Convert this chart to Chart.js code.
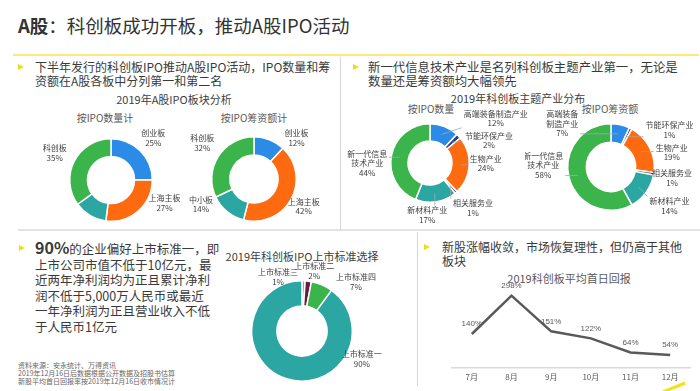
<!DOCTYPE html>
<html lang="zh">
<head>
<meta charset="UTF-8">
<title>A股：科创板成功开板，推动A股IPO活动</title>
<script src="https://cdn.jsdelivr.net/npm/chart.js"></script>
<style>
    body {
        margin: 0;
        width: 700px;
        height: 391px;
        background: #fff;
        overflow: hidden;
        position: relative;
        font-family: 'Noto Sans CJK SC', 'Liberation Sans', sans-serif;
        color: #333;
    }
    .abs { position: absolute; white-space: nowrap; }
    canvas { position: absolute; }
    .title { left: 18px; top: 12px; font-size: 18.5px; line-height: 26px; color: #333; }
    .title b { font-weight: bold; }
    .yline { left: 13px; top: 54px; width: 686px; height: 2px; background: #fbe97a; }
    .hline { left: 18px; top: 229px; width: 682px; height: 2px; background: #e3e3e3; }
    .vline1 { left: 340px; top: 57px; width: 1px; height: 173px; background: #d6d6d6; }
    .vline2 { left: 417px; top: 232px; width: 1px; height: 154px; background: #d6d6d6; }
    .arrow { width: 0; height: 0; border-left: 6px solid #f2dc14; border-top: 3.5px solid transparent; border-bottom: 3.5px solid transparent; }
    .bullet { font-size: 12px; line-height: 14px; color: #3a3a3a; }
    .bullet.wide { font-size: 12.4px; }
    .bullet.big { font-size: 12.5px; line-height: 15.5px; }
    .bullet .pct { font-size: 16px; font-weight: bold; }
    .head { font-size: 11px; color: #404040; transform: translateX(-50%); }
    .sub { font-size: 10px; color: #595959; transform: translateX(-50%); }
    .src { left: 18px; top: 361px; font-size: 7px; line-height: 8px; color: #666; }
    .slash { left: 662px; top: 386px; width: 24px; height: 2.5px; background: #f5e11a; transform: rotate(-22deg); }
</style>
</head>
<body>
    <div class="abs title"><b>A股</b>：科创板成功开板，推动A股IPO活动</div>
    <div class="abs yline"></div>
    <div class="abs hline"></div>
    <div class="abs vline1"></div>
    <div class="abs vline2"></div>

    <div class="abs arrow" style="left:18px; top:64px;"></div>
    <div class="abs bullet" style="left:35px; top:60px;">下半年发行的科创板IPO推动A股IPO活动，IPO数量和筹<br>资额在A股各板中分列第一和第二名</div>
    <div class="abs head" style="left:174px; top:91px;">2019年A股IPO板块分析</div>
    <div class="abs sub" style="left:105px; top:110px;">按IPO数量计</div>
    <div class="abs sub" style="left:254px; top:110px;">按IPO筹资额计</div>

    <div class="abs arrow" style="left:353px; top:64px;"></div>
    <div class="abs bullet wide" style="left:368px; top:60px;">新一代信息技术产业是名列科创板主题产业第一，无论是<br>数量还是筹资额均大幅领先</div>
    <div class="abs head" style="left:518px; top:90px;">2019年科创板主题产业分布</div>
    <div class="abs sub" style="left:431px; top:101px;">按IPO数量</div>
    <div class="abs sub" style="left:610px; top:101px;">按IPO筹资额</div>

    <div class="abs arrow" style="left:19px; top:245px;"></div>
    <div class="abs bullet big" style="left:35px; top:240px;"><span class="pct">90%</span>的企业偏好上市标准一，即<br>上市公司市值不低于10亿元，最<br>近两年净利润均为正且累计净利<br>润不低于5,000万人民币或最近<br>一年净利润为正且营业收入不低<br>于人民币1亿元</div>
    <div class="abs src">资料来源：安永统计、万得资讯<br>2019年12月16日后数据根据公开数据及招股书估算<br>新股平均首日回报率按2019年12月16日收市情况计</div>
    <div class="abs head" style="left:302px; top:248px;">2019年科创板IPO上市标准选择</div>

    <div class="abs arrow" style="left:424px; top:244px;"></div>
    <div class="abs bullet" style="left:442px; top:240px;">新股涨幅收敛，市场恢复理性，但仍高于其他<br>板块</div>
    <div class="abs head" style="left:569px; top:270px; color:#595959;">2019科创板平均首日回报</div>
    <div class="abs slash"></div>

    <canvas id="boardCount"></canvas>
    <canvas id="boardRaise"></canvas>
    <canvas id="topicCount"></canvas>
    <canvas id="topicRaise"></canvas>
    <canvas id="listingStd"></canvas>
    <canvas id="firstDay"></canvas>

<script>
    // ---- data ----
    const boards = ['创业板', '上海主板', '中小板', '科创板'];
    const boardCountPct = [25, 27, 13, 35];
    const boardRaisePct = [12, 42, 14, 32];

    const topics = ['高端装备制造产业', '节能环保产业', '生物产业', '相关服务业', '新材料产业', '新一代信息技术产业'];
    const topicCountPct = [12, 2, 24, 1, 17, 44];
    const topicRaisePct = [7, 1, 19, 1, 14, 58];

    const standards = ['上市标准三', '上市标准二', '上市标准四', '上市标准一'];
    const standardPct = [1, 2, 7, 90];

    const months = ['7月', '8月', '9月', '10月', '11月', '12月'];
    const firstDayReturn = [140, 298, 151, 122, 64, 54];

    // ---- colours ----
    const blue = '#2b8be6', orange = '#fe6a10', teal = '#2ba6a2', green = '#3bb54b';
    const navy = '#22408f', darkNavy = '#1a1f5c', lightBlue = '#5bb8e8', maroon = '#6b1b3d';

    Chart.defaults.font.family = "'Liberation Sans', 'Noto Sans CJK SC', sans-serif";
    Chart.defaults.animation = false;

    // draws "name / value%" next to each arc, optional leader line
    const arcLabels = {
        id: 'arcLabels',
        afterDatasetsDraw(chart, args, opts) {
            if (!opts || !opts.k) return;
            const ctx = chart.ctx;
            const meta = chart.getDatasetMeta(0);
            const vals = chart.data.datasets[0].data;
            ctx.save();
            ctx.font = opts.font || "8px 'Noto Sans CJK SC'";
            ctx.textAlign = 'center';
            ctx.textBaseline = 'middle';
            meta.data.forEach((arc, i) => {
                const p = arc.getProps(['x', 'y', 'startAngle', 'endAngle', 'outerRadius', 'innerRadius'], true);
                const mid = (p.startAngle + p.endAngle) / 2;
                const nd = (opts.nudge && opts.nudge[i]) || [0, 0];
                const lx = p.x + Math.cos(mid) * p.outerRadius * opts.k + nd[0];
                const ly = p.y + Math.sin(mid) * p.outerRadius * opts.k + nd[1];
                let name = chart.data.labels[i];
                const lines = [];
                const wrap = opts.wrap && opts.wrap[i];
                if (wrap) {
                    for (let s = 0; s < name.length; s += wrap) lines.push(name.slice(s, s + wrap));
                } else {
                    lines.push(name);
                }
                lines.push(vals[i] + '%');
                const lh = opts.lineHeight || 9.5;
                const top = ly - (lines.length - 1) * lh / 2;
                if (opts.leader) {
                    const rr = (p.outerRadius + p.innerRadius) / 2;
                    const ax = p.x + Math.cos(mid) * rr;
                    const ay = p.y + Math.sin(mid) * rr;
                    const w = Math.max(...lines.map(s => ctx.measureText(s).width));
                    const h = lines.length * lh;
                    const ex = Math.max(lx - w / 2 - 2, Math.min(ax, lx + w / 2 + 2));
                    const ey = Math.max(ly - h / 2, Math.min(ay, ly + h / 2));
                    ctx.strokeStyle = '#a6a6a6';
                    ctx.lineWidth = 0.8;
                    ctx.beginPath();
                    ctx.moveTo(ax, ay);
                    ctx.lineTo(ex, ey);
                    ctx.stroke();
                }
                ctx.fillStyle = opts.color || '#404040';
                lines.forEach((s, j) => ctx.fillText(s, lx, top + j * lh));
            });
            ctx.restore();
        }
    };

    // box = canvas rect on page; ring = centre and radius on page
    function donut(id, box, ring, names, values, colors, cutout, labelOpts) {
        const cv = document.getElementById(id);
        cv.width = box.w;
        cv.height = box.h;
        cv.style.left = box.x + 'px';
        cv.style.top = box.y + 'px';
        return new Chart(cv, {
            type: 'doughnut',
            data: {
                labels: names,
                datasets: [{ data: values, backgroundColor: colors, borderColor: '#fff', borderWidth: 1.5 }]
            },
            options: {
                responsive: false,
                cutout: cutout,
                layout: {
                    padding: {
                        left: ring.cx - ring.r - box.x,
                        right: box.x + box.w - ring.cx - ring.r,
                        top: ring.cy - ring.r - box.y,
                        bottom: box.y + box.h - ring.cy - ring.r
                    }
                },
                plugins: { legend: { display: false }, tooltip: { enabled: false }, arcLabels: labelOpts }
            },
            plugins: [arcLabels]
        });
    }

    donut('boardCount', { x: 15, y: 125, w: 175, h: 103 }, { cx: 111, cy: 180, r: 42 },
        boards, boardCountPct, [blue, orange, teal, green], '57%',
        { k: 1.45, nudge: [[0, 0], [14, -22], [2, 13], [-3, 0]] });

    donut('boardRaise', { x: 175, y: 125, w: 165, h: 103 }, { cx: 254, cy: 179, r: 43 },
        boards, boardRaisePct, [blue, orange, teal, green], '57%',
        { k: 1.45, nudge: [[20, 16], [-4, -2], [-14, -22], [0, -3]] });

    donut('topicCount', { x: 345, y: 100, w: 185, h: 128 }, { cx: 430, cy: 163, r: 40 },
        topics, topicCountPct, [blue, navy, orange, darkNavy, teal, green], '56%',
        { k: 1.5, leader: true, wrap: { 5: 5 }, nudge: [[44, 10], [16, 18], [-3, -3], [4, 1], [-12, -6], [-5, 11]] });

    donut('topicRaise', { x: 525, y: 100, w: 175, h: 128 }, { cx: 611, cy: 167, r: 44 },
        topics, topicRaisePct, [blue, navy, orange, darkNavy, teal, green], '57%',
        { k: 1.5, leader: true, wrap: { 0: 4, 5: 5 }, nudge: [[-63, 20], [29, 21], [3, 15], [-3, 1], [6, 1], [-5, -18]] });

    donut('listingStd', { x: 225, y: 262, w: 190, h: 125 }, { cx: 302, cy: 331, r: 51 },
        standards, standardPct, [lightBlue, maroon, green, teal], '50%',
        { k: 1.3, nudge: [[-26, 11], [4, 5], [28, 11], [80, -34]] });

    // ---- line chart ----
    const pointLabels = {
        id: 'pointLabels',
        afterDatasetsDraw(chart) {
            const ctx = chart.ctx;
            const meta = chart.getDatasetMeta(0);
            ctx.save();
            ctx.font = "8px 'Liberation Sans'";
            ctx.fillStyle = '#595959';
            ctx.textAlign = 'center';
            ctx.textBaseline = 'middle';
            meta.data.forEach((pt, i) => {
                ctx.fillText(chart.data.datasets[0].data[i] + '%', pt.x, pt.y - 10);
            });
            ctx.restore();
        }
    };

    const lc = document.getElementById('firstDay');
    lc.width = 270;
    lc.height = 129;
    lc.style.left = '430px';
    lc.style.top = '262px';
    new Chart(lc, {
        type: 'line',
        data: {
            labels: months,
            datasets: [{
                data: firstDayReturn,
                borderColor: '#595959',
                borderWidth: 2.5,
                pointRadius: 0,
                tension: 0,
                clip: false
            }]
        },
        options: {
            responsive: false,
            layout: { padding: { left: 22, right: 10, top: 21, bottom: 5 } },
            plugins: { legend: { display: false }, tooltip: { enabled: false } },
            scales: {
                x: {
                    offset: true,
                    grid: { display: false, drawTicks: false },
                    border: { color: '#d9d9d9', width: 1.5 },
                    ticks: { color: '#595959', font: { size: 8, family: "'Noto Sans CJK SC'" }, padding: 4 },
                    afterFit: s => { s.height = 18; }
                },
                y: { display: false, min: 0, max: 350 }
            }
        },
        plugins: [pointLabels]
    });
</script>
</body>
</html>
